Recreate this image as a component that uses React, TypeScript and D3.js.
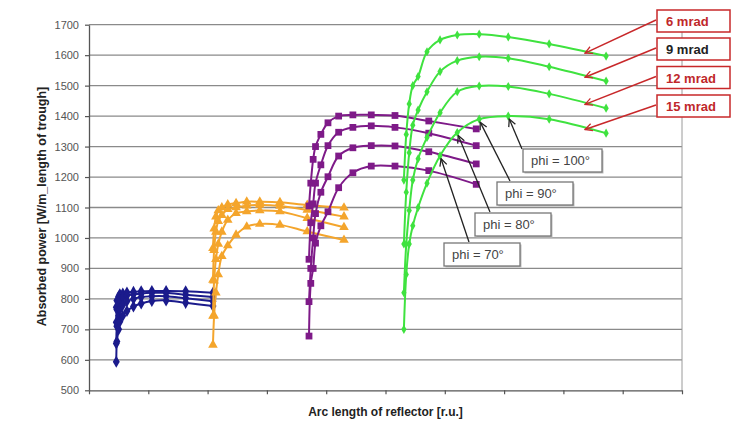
import { useEffect, useRef } from 'react';
import * as d3 from 'd3';

// y axis ticks, x axis tick marks (no labels in the original)
const yTicks = [500, 600, 700, 800, 900, 1000, 1100, 1200, 1300, 1400, 1500, 1600, 1700];
const xTicks = [0, 1, 2, 3, 4, 5, 6, 7, 8, 9, 10];

// arc length positions of the markers in each group [r.u.]
const blueX = [0.46, 0.47, 0.50, 0.52, 0.57, 0.64, 0.75, 0.88, 1.06, 1.30, 1.63, 2.09];
const orangeX = [2.09, 2.11, 2.14, 2.18, 2.24, 2.34, 2.48, 2.66, 2.88, 3.22, 3.68, 4.30];
const purpleX = [3.71, 3.74, 3.78, 3.82, 3.91, 4.03, 4.21, 4.45, 4.76, 5.16, 5.73, 6.53];
const greenX = [5.31, 5.35, 5.40, 5.46, 5.55, 5.70, 5.92, 6.21, 6.58, 7.07, 7.76, 8.72];

// absorbed power, one series per slope error (6, 9, 12, 15 mrad)
const blue6 = [773, 795, 808, 815, 818, 821, 823, 825, 826, 826, 825, 820];
const blue9 = [723, 765, 785, 796, 805, 811, 815, 818, 820, 820, 814, 806];
const blue12 = [654, 710, 745, 765, 780, 792, 800, 806, 809, 809, 802, 792];
const blue15 = [594, 660, 700, 725, 745, 760, 775, 785, 793, 795, 787, 777];

const orange6 = [966, 1030, 1070, 1090, 1100, 1110, 1114, 1119, 1119, 1117, 1108, 1099];
const orange9 = [862, 960, 1020, 1055, 1075, 1094, 1100, 1106, 1108, 1105, 1092, 1070];
const orange12 = [744, 860, 930, 980, 1020, 1059, 1081, 1087, 1090, 1087, 1065, 1035];
const orange15 = [649, 745, 820, 880, 940, 975, 1010, 1037, 1046, 1043, 1021, 993];

const purple6 = [1105, 1180, 1258, 1300, 1340, 1378, 1400, 1404, 1404, 1402, 1384, 1358];
const purple9 = [930, 1050, 1112, 1180, 1240, 1303, 1347, 1363, 1368, 1363, 1344, 1303];
const purple12 = [791, 900, 1000, 1080, 1150, 1201, 1269, 1296, 1303, 1302, 1283, 1243];
const purple15 = [678, 851, 900, 983, 1040, 1086, 1165, 1214, 1236, 1236, 1221, 1176];

const green6 = [1190, 1340, 1440, 1500, 1530, 1611, 1650, 1666, 1669, 1660, 1637, 1597];
const green9 = [980, 1150, 1280, 1370, 1420, 1480, 1546, 1582, 1595, 1590, 1562, 1515];
const green12 = [820, 980, 1090, 1190, 1260, 1330, 1411, 1480, 1499, 1497, 1473, 1426];
const green15 = [700, 880, 980, 1040, 1100, 1180, 1270, 1346, 1390, 1400, 1390, 1344];

const mradLabels = ['6 mrad', '9 mrad', '12 mrad', '15 mrad'];
const phiLabels = ['phi = 100°', 'phi = 90°', 'phi = 80°', 'phi = 70°'];

const groups = [
  { x: blueX, series: [blue6, blue9, blue12, blue15], color: '#1b1b8c', symbol: d3.symbolDiamond, size: 42 },
  { x: orangeX, series: [orange6, orange9, orange12, orange15], color: '#f4a52c', symbol: d3.symbolTriangle, size: 40 },
  { x: purpleX, series: [purple6, purple9, purple12, purple15], color: '#7e1a88', symbol: d3.symbolSquare, size: 46 },
  { x: greenX, series: [green6, green9, green12, green15], color: '#3fe23f', symbol: d3.symbolDiamond, size: 24 },
];

export default function App() {
  const svgRef = useRef<SVGSVGElement>(null);

  useEffect(() => {
    if (!svgRef.current) return;
    const svg = d3.select(svgRef.current);
    svg.selectAll('*').remove();

    const W = 741, H = 422;
    const left = 89, right = 682, top = 24.7, bottom = 390.3;
    const x = d3.scaleLinear().domain([0, 10]).range([left, right]);
    const y = d3.scaleLinear().domain([500, 1700]).range([bottom, top]);
    const font = 'Arial, "Liberation Sans", sans-serif';

    svg.append('rect').attr('width', W).attr('height', H).attr('fill', '#fff');

    const defs = svg.append('defs');
    const mk = (id: string, color: string) => {
      defs.append('marker').attr('id', id).attr('viewBox', '0 0 10 10')
        .attr('refX', 9).attr('refY', 5).attr('markerWidth', 9).attr('markerHeight', 9)
        .attr('orient', 'auto').attr('markerUnits', 'userSpaceOnUse')
        .append('path').attr('d', 'M1,1 L9,5 L1,9').attr('fill', 'none')
        .attr('stroke', color).attr('stroke-width', 1.4);
    };
    mk('arrRed', '#c8282a');
    mk('arrBlack', '#222');

    // gridlines
    svg.append('g').selectAll('line').data(yTicks.filter(t => t > 500)).enter().append('line')
      .attr('x1', left).attr('x2', right).attr('y1', d => y(d)).attr('y2', d => y(d))
      .attr('stroke', '#8a8a8a').attr('stroke-width', 1.3);
    // right border
    svg.append('line').attr('x1', right).attr('x2', right).attr('y1', top).attr('y2', bottom)
      .attr('stroke', '#9a9a9a').attr('stroke-width', 1);

    // axes
    const yAxis = svg.append('g').attr('transform', `translate(${left},0)`)
      .call(d3.axisLeft(y).tickValues(yTicks).tickSize(4).tickSizeOuter(0).tickFormat(d3.format('d')));
    yAxis.select('.domain').attr('stroke', '#555').attr('stroke-width', 1.3);
    yAxis.selectAll('line').attr('stroke', '#555').attr('stroke-width', 1.2);
    yAxis.selectAll('text').attr('font-family', font).attr('font-size', 11).attr('fill', '#555').attr('dx', -3);

    const xAxis = svg.append('g').attr('transform', `translate(0,${bottom})`)
      .call(d3.axisBottom(x).tickValues(xTicks).tickSize(4).tickSizeOuter(0).tickFormat(() => ''));
    xAxis.select('.domain').attr('stroke', '#555').attr('stroke-width', 1.3);
    xAxis.selectAll('line').attr('stroke', '#555').attr('stroke-width', 1.2);

    // axis titles
    svg.append('text').attr('x', (left + right) / 2).attr('y', 416).attr('text-anchor', 'middle')
      .attr('font-family', font).attr('font-size', 12).attr('font-weight', 'bold').attr('fill', '#222')
      .text('Arc length of reflector [r.u.]');
    svg.append('text').attr('transform', `translate(46,${(top + bottom) / 2 - 1}) rotate(-90)`)
      .attr('text-anchor', 'middle').attr('font-family', font).attr('font-size', 12.5)
      .attr('font-weight', 'bold').attr('fill', '#222')
      .text('Absorbed power [W/m_length of trough]');

    // curves
    groups.forEach(gr => {
      const g = svg.append('g');
      gr.series.forEach(vals => {
        const pts = vals.map((v, i) => [gr.x[i], v] as [number, number]);
        const line = d3.line<[number, number]>().x(d => x(d[0])).y(d => y(d[1]))
          .curve(d3.curveCatmullRom.alpha(0.5));
        g.append('path').datum(pts).attr('d', line).attr('fill', 'none')
          .attr('stroke', gr.color).attr('stroke-width', 2);
        g.selectAll(null).data(pts).enter().append('path')
          .attr('transform', d => `translate(${x(d[0])},${y(d[1])})`)
          .attr('d', d3.symbol().type(gr.symbol).size(gr.size)())
          .attr('fill', gr.color);
      });
    });

    // mrad callouts pointing at green curves
    const boxTops = [10, 38, 66.5, 95];
    const green = groups[3];
    const ax = 585;
    green.series.forEach((vals, i) => {
      const interp = d3.scaleLinear().domain(green.x).range(vals);
      const ey = y(interp(x.invert(ax))) + 1.5;
      svg.append('line').attr('x1', 656).attr('y1', boxTops[i] + 10).attr('x2', ax).attr('y2', ey)
        .attr('stroke', '#c8282a').attr('stroke-width', 1.5).attr('marker-end', 'url(#arrRed)');
      svg.append('rect').attr('x', 657).attr('y', boxTops[i]).attr('width', 73).attr('height', 22)
        .attr('fill', '#fff').attr('stroke', '#c8282a').attr('stroke-width', 1.5);
      svg.append('text').attr('x', 666).attr('y', boxTops[i] + 16)
        .attr('font-family', font).attr('font-size', 13).attr('font-weight', 'bold')
        .attr('fill', i === 1 ? '#222' : '#c0282a').text(mradLabels[i]);
    });

    // phi callouts pointing at points of the 15 mrad green curve
    const phiBoxes = [
      { x: 523, y: 149, w: 79, sx: 522, sy: 149 },
      { x: 497, y: 182, w: 76, sx: 510, sy: 181 },
      { x: 475, y: 213, w: 76, sx: 490, sy: 212 },
      { x: 444, y: 243, w: 76, sx: 469, sy: 242 },
    ];
    const pIdx = [9, 8, 7, 6];
    phiBoxes.forEach((b, i) => {
      const px = x(greenX[pIdx[i]]) + 1;
      const py = y(green15[pIdx[i]]) + 3;
      svg.append('line').attr('x1', b.sx).attr('y1', b.sy).attr('x2', px).attr('y2', py)
        .attr('stroke', '#222').attr('stroke-width', 1.3).attr('marker-end', 'url(#arrBlack)');
      svg.append('rect').attr('x', b.x + 1.5).attr('y', b.y + 1.5).attr('width', b.w).attr('height', 23)
        .attr('fill', '#bbb');
      svg.append('rect').attr('x', b.x).attr('y', b.y).attr('width', b.w).attr('height', 23)
        .attr('fill', '#fff').attr('stroke', '#777').attr('stroke-width', 1.3);
      svg.append('text').attr('x', b.x + 8).attr('y', b.y + 16)
        .attr('font-family', font).attr('font-size', 13).attr('fill', '#444').text(phiLabels[i]);
    });
  }, []);

  return <svg ref={svgRef} width={741} height={422} style={{ position: 'absolute', left: 0, top: 0 }} />;
}
